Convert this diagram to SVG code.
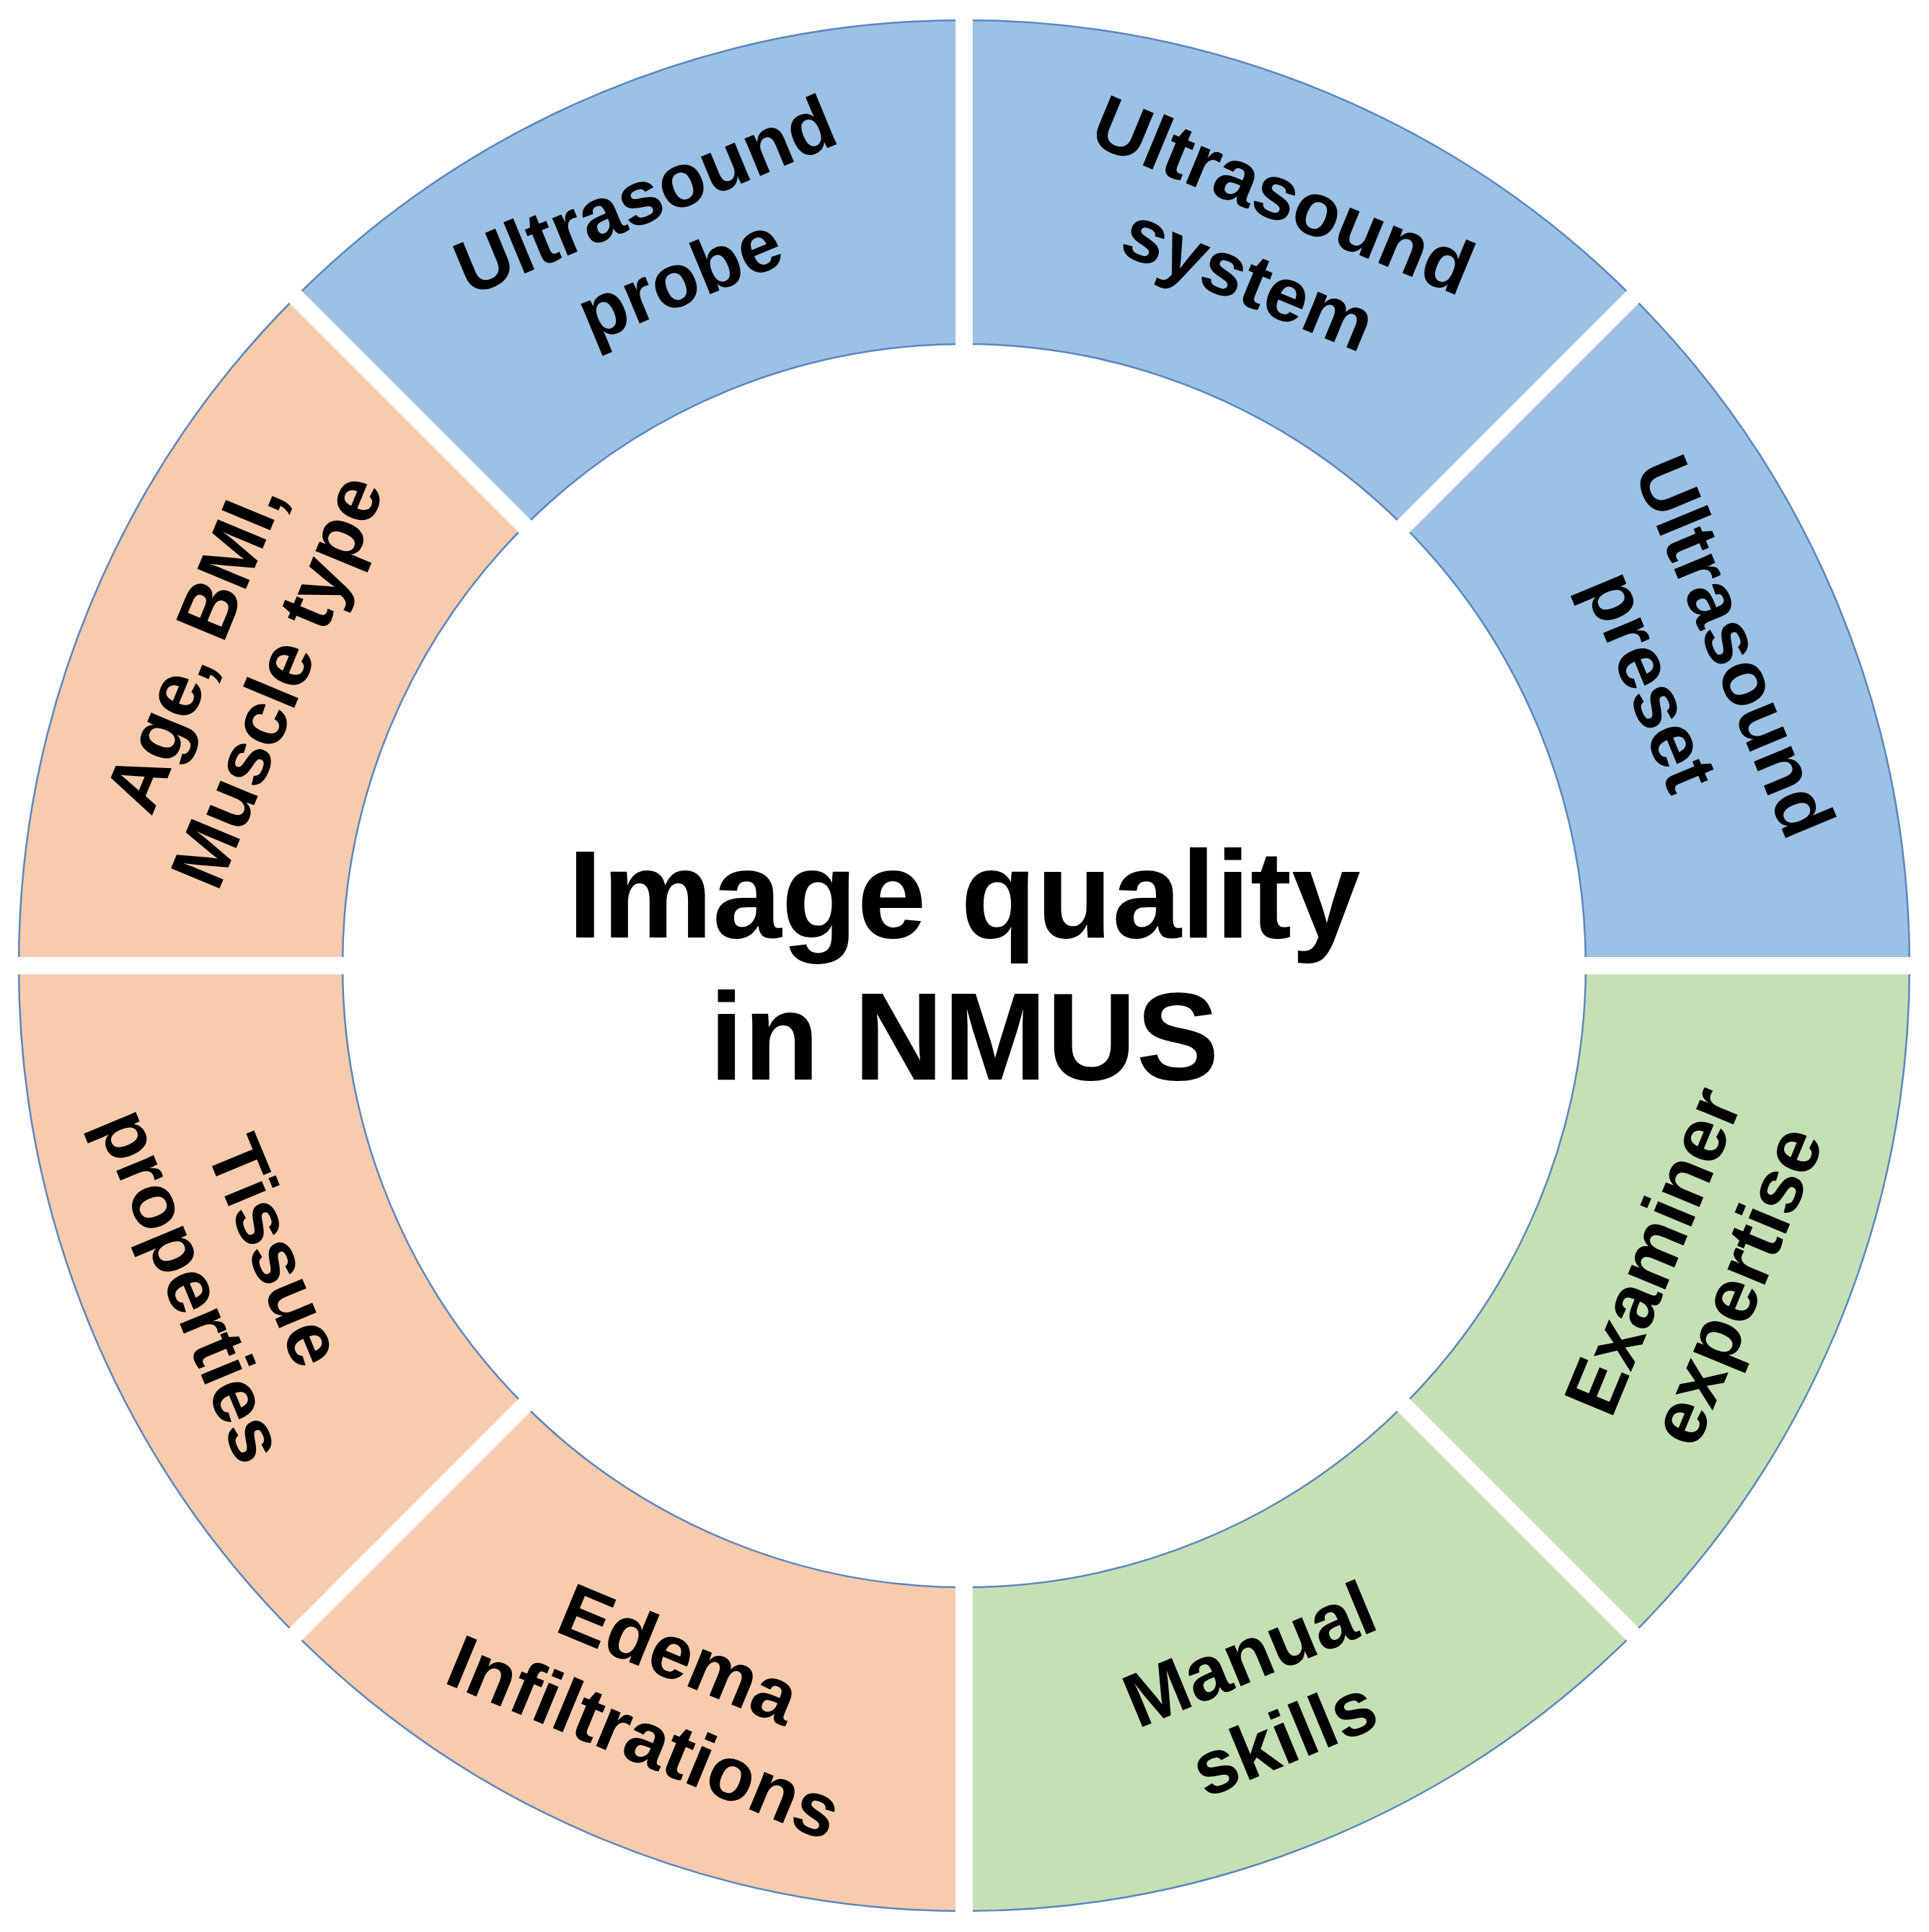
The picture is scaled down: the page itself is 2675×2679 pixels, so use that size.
<svg xmlns="http://www.w3.org/2000/svg" width="2675" height="2679" viewBox="0 0 2675 2679">
<style>
.s{stroke:#5a86bf;stroke-width:2.5}
.b{fill:#9bc1e4}.o{fill:#f7cbab}.g{fill:#c5e0b4}
text{font-family:"Liberation Sans",Arial,sans-serif;font-weight:bold;fill:#000;text-anchor:middle}
.l{font-size:106px}
.c{font-size:172px}
.gap{stroke:#fff;stroke-width:24}
</style>
<defs>
<path id="seg" d="M1337,28 A1311,1311 0 0 1 2264,412 L1946.5,729.5 A862,862 0 0 0 1337,477 Z"/>
</defs>
<rect width="2675" height="2679" fill="#fff"/>
<g id="n1"><use href="#seg" class="b s"/>
<g transform="translate(1337,1339) rotate(-67.5) translate(1095,0) rotate(90)"><text class="l" y="-25">Ultrasound</text><text class="l" y="100">system</text></g></g>
<g id="n2"><use href="#seg" class="b s" transform="rotate(45,1337,1339)"/>
<g transform="translate(1337,1339) rotate(-22.5) translate(1095,0) rotate(90)"><text class="l" y="-25">Ultrasound</text><text class="l" y="100">preset</text></g></g>
<g id="n3"><use href="#seg" class="g s" transform="rotate(90,1337,1339)"/>
<g transform="translate(1337,1339) rotate(22.5) translate(1095,0) rotate(-90)"><text class="l" y="-25">Examiner</text><text class="l" y="100">expertise</text></g></g>
<g id="n4"><use href="#seg" class="g s" transform="rotate(135,1337,1339)"/>
<g transform="translate(1337,1339) rotate(67.5) translate(1095,0) rotate(-90)"><text class="l" y="-25">Manual</text><text class="l" y="100">skills</text></g></g>
<g id="n5"><use href="#seg" class="o s" transform="rotate(180,1337,1339)"/>
<g transform="translate(1337,1339) rotate(112.5) translate(1095,0) rotate(-90)"><text class="l" y="-25">Edema</text><text class="l" y="100">Infiltrations</text></g></g>
<g id="n6"><use href="#seg" class="o s" transform="rotate(225,1337,1339)"/>
<g transform="translate(1337,1339) rotate(157.5) translate(1095,0) rotate(-90)"><text class="l" y="-25">Tissue</text><text class="l" y="100">properties</text></g></g>
<g id="n7"><use href="#seg" class="o s" transform="rotate(270,1337,1339)"/>
<g transform="translate(1337,1339) rotate(202.5) translate(1095,0) rotate(90)"><text class="l" y="-25">Age, BMI,</text><text class="l" y="100">Muscle type</text></g></g>
<g id="n8"><use href="#seg" class="b s" transform="rotate(315,1337,1339)"/>
<g transform="translate(1337,1339) rotate(247.5) translate(1095,0) rotate(90)"><text class="l" y="-25">Ultrasound</text><text class="l" y="100">probe</text></g></g>
<g id="connectors">
<line class="gap" x1="1337" y1="19" x2="1337" y2="2659"/>
<line class="gap" x1="17" y1="1339" x2="2657" y2="1339"/>
<line class="gap" x1="404" y1="406" x2="2270" y2="2272"/>
<line class="gap" x1="2270" y1="406" x2="404" y2="2272"/>
</g>
<g id="center"><text class="c" x="1337" y="1300">Image quality</text><text class="c" x="1337" y="1497">in NMUS</text></g>
</svg>
